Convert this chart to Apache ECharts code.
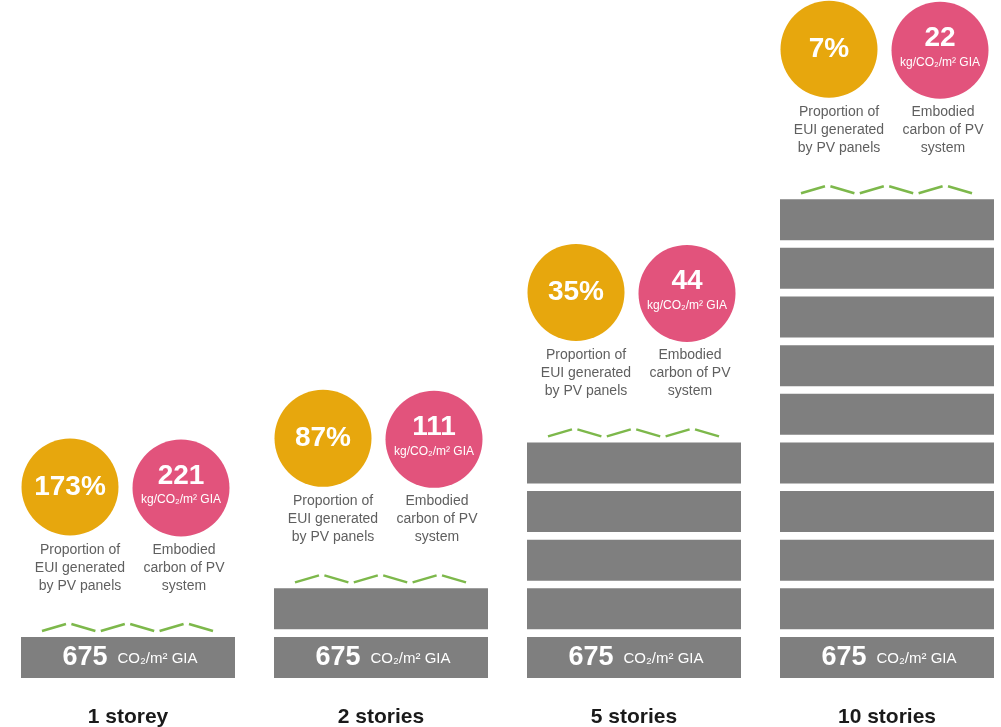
<!DOCTYPE html>
<html>
<head>
<meta charset="utf-8">
<script src="https://cdn.jsdelivr.net/npm/echarts@6/dist/echarts.min.js"></script>
<style>
html,body{margin:0;padding:0;background:#fff;}
#chart{width:1001px;height:727px;}
</style>
</head>
<body>
<div id="chart"></div>
<script>
// ---- data ----
const categories = ['1 storey', '2 stories', '5 stories', '10 stories'];
const storeys = [1, 2, 5, 10];
const pvShare = [173, 87, 35, 7];            // % of EUI generated by PV panels
const pvEmbodied = [221, 111, 44, 22];       // kg/CO2/m2 GIA
const floorCarbon = [675, 675, 675, 675];    // CO2/m2 GIA
const pvShareLabel = 'Proportion of\nEUI generated\nby PV panels';
const pvEmbodiedLabel = 'Embodied\ncarbon of PV\nsystem';
const pvEmbodiedUnit = 'kg/CO\u2082/m\u00b2 GIA';
const floorUnit = 'CO\u2082/m\u00b2 GIA';

// ---- style ----
const FONT = '"Liberation Sans", Arial, Helvetica, sans-serif';
const GREY = '#7f7f7f';
const ORANGE = '#e7a70d';
const PINK = '#e2537c';
const GREEN = '#7db84b';
const TEXT_GREY = '#5f5f5f';
const FLOOR = 0.843;   // floor slab height as fraction of a storey

const chart = echarts.init(document.getElementById('chart'), null, {renderer: 'canvas'});

function renderItem(params, api) {
  const idx = api.value(0);
  const n = api.value(1);
  const pct = api.value(2);
  const emb = api.value(3);
  const base = api.value(4);
  const band = api.size([1, 0])[0];
  const w = 214;
  const cx = api.coord([idx, 0])[0];
  const left = cx - w / 2;
  const children = [];
  for (let k = 0; k < n; k++) {
    const p0 = api.coord([idx, k]);
    const p1 = api.coord([idx, k + FLOOR]);
    children.push({
      type: 'rect',
      shape: {x: left, y: p1[1], width: w, height: p0[1] - p1[1]},
      style: {fill: GREY}
    });
  }
  const g0 = api.coord([idx, 0])[1];
  const g1 = api.coord([idx, FLOOR])[1];
  children.push({
    type: 'text',
    x: cx + 2, y: (g0 + g1) / 2,
    style: {
      text: '{a|' + base + '}{b|' + floorUnit + '}',
      align: 'center', verticalAlign: 'middle',
      rich: {
        a: {fontSize: 27, fontWeight: 'bold', fill: '#fff', fontFamily: FONT},
        b: {fontSize: 15, fill: '#fff', fontFamily: FONT, padding: [3, 0, 0, 10]}
      }
    }
  });
  const roofY = api.coord([idx, n - 1 + FLOOR])[1];
  // PV panels zigzag
  const zb = roofY - 6, zt = roofY - 13;
  for (let i = 0; i < 6; i++) {
    const x0 = left + 21 + i * 29.4;
    const up = i % 2 === 0;
    children.push({
      type: 'line',
      shape: {x1: x0, y1: up ? zb : zt, x2: x0 + 24, y2: up ? zt : zb},
      style: {stroke: GREEN, lineWidth: 2.5}
    });
  }
  // circles
  const cy = roofY - 150;
  const r = 48.5;
  const ox = left + 49, px = left + 160;
  children.push({type: 'circle', shape: {cx: ox, cy: cy, r: r}, style: {fill: ORANGE}});
  children.push({type: 'circle', shape: {cx: px, cy: cy + 1, r: r}, style: {fill: PINK}});
  children.push({
    type: 'text', x: ox, y: cy,
    style: {text: pct + '%', fill: '#fff', fontSize: 28, fontWeight: 'bold', fontFamily: FONT,
            align: 'center', verticalAlign: 'middle'}
  });
  children.push({
    type: 'text', x: px, y: cy - 11,
    style: {text: String(emb), fill: '#fff', fontSize: 28, fontWeight: 'bold', fontFamily: FONT,
            align: 'center', verticalAlign: 'middle'}
  });
  children.push({
    type: 'text', x: px, y: cy + 13,
    style: {text: pvEmbodiedUnit, fill: '#fff', fontSize: 12, fontFamily: FONT,
            align: 'center', verticalAlign: 'middle'}
  });
  children.push({
    type: 'text', x: left + 59, y: cy + 54,
    style: {text: pvShareLabel, fill: TEXT_GREY, fontSize: 14, lineHeight: 18, fontFamily: FONT,
            align: 'center', verticalAlign: 'top'}
  });
  children.push({
    type: 'text', x: left + 163, y: cy + 54,
    style: {text: pvEmbodiedLabel, fill: TEXT_GREY, fontSize: 14, lineHeight: 18, fontFamily: FONT,
            align: 'center', verticalAlign: 'top'}
  });
  return {type: 'group', children: children};
}

const seriesData = categories.map((c, i) => [i, storeys[i], pvShare[i], pvEmbodied[i], floorCarbon[i]]);

chart.setOption({
  animation: false,
  backgroundColor: '#fff',
  grid: {left: 1.5, width: 1012, top: -3, bottom: 49, outerBoundsMode: 'none', containLabel: false},
  xAxis: {
    type: 'category',
    data: categories,
    boundaryGap: true,
    axisLine: {show: false},
    axisTick: {show: false},
    axisLabel: {
      margin: 27,
      fontSize: 21, fontWeight: 'bold', color: '#1a1a1a', fontFamily: FONT, lineHeight: 24
    }
  },
  yAxis: {
    type: 'value', min: 0, max: 14, show: false,
    splitLine: {show: false}
  },
  series: [{
    type: 'custom',
    renderItem: renderItem,
    encode: {x: 0, y: 1},
    clip: false,
    data: seriesData
  }]
});
</script>
</body>
</html>
